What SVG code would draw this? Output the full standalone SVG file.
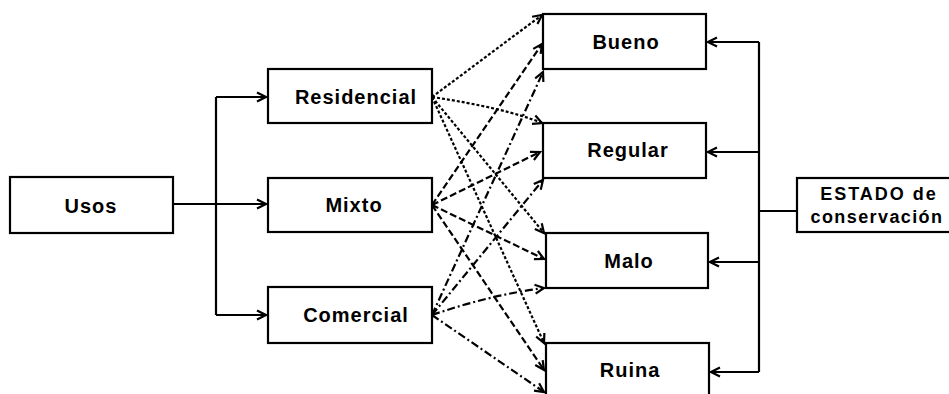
<svg xmlns="http://www.w3.org/2000/svg" width="949" height="394" viewBox="0 0 949 394">
<style>
.box{fill:#fff;stroke:#000;stroke-width:2.2}
.t{font-family:"Liberation Sans",Arial,sans-serif;font-weight:bold;font-size:20px;letter-spacing:1px;fill:#000;text-anchor:middle}
.t2{font-family:"Liberation Sans",Arial,sans-serif;font-weight:bold;font-size:18px;letter-spacing:2px;fill:#000;text-anchor:middle}
.ln{fill:none;stroke:#000;stroke-width:2.2}
.dot{fill:none;stroke:#000;stroke-width:2.2;stroke-dasharray:3 2}
.dash{fill:none;stroke:#000;stroke-width:2.2;stroke-dasharray:7 3}
.dd{fill:none;stroke:#000;stroke-width:2.2;stroke-dasharray:8 3 2 3}
</style>
<defs>
<marker id="ah" markerUnits="userSpaceOnUse" markerWidth="12" markerHeight="12" refX="10" refY="6" orient="auto">
<path d="M1,1.5 L10,6 L1,10.5" fill="none" stroke="#000" stroke-width="2.2" stroke-dasharray="none"/>
</marker>
</defs>
<g id="connectors">
<path class="ln" d="M173,204 H266" marker-end="url(#ah)"/>
<path class="ln" d="M216,97 V315"/>
<path class="ln" d="M216,97 H266" marker-end="url(#ah)"/>
<path class="ln" d="M216,315 H266" marker-end="url(#ah)"/>
<path class="ln" d="M759,42 V372"/>
<path class="ln" d="M797,211 H759"/>
<path class="ln" d="M759,42 H708" marker-end="url(#ah)"/>
<path class="ln" d="M759,152 H708" marker-end="url(#ah)"/>
<path class="ln" d="M759,262 H710" marker-end="url(#ah)"/>
<path class="ln" d="M759,372 H711" marker-end="url(#ah)"/>
<path class="dot" d="M432,97 L542,15" marker-end="url(#ah)"/>
<path class="dot" d="M432,97 Q505,108 542,123" marker-end="url(#ah)"/>
<path class="dot" d="M432,97 L544,233" marker-end="url(#ah)"/>
<path class="dot" d="M432,97 L544,343" marker-end="url(#ah)"/>
<path class="dash" d="M432,205 L542,44" marker-end="url(#ah)"/>
<path class="dash" d="M432,205 L540,152" marker-end="url(#ah)"/>
<path class="dash" d="M432,205 L544,259" marker-end="url(#ah)"/>
<path class="dash" d="M432,205 L544,370" marker-end="url(#ah)"/>
<path class="dd" d="M432,315 L543,72" marker-end="url(#ah)"/>
<path class="dd" d="M432,315 L543,180" marker-end="url(#ah)"/>
<path class="dd" d="M432,315 Q490,295 544,288" marker-end="url(#ah)"/>
<path class="dd" d="M432,315 L544,392" marker-end="url(#ah)"/>
</g>
<g id="usos"><rect class="box" x="10" y="177" width="163" height="56"/><text class="t" x="91" y="213">Usos</text></g>
<g id="residencial"><rect class="box" x="268" y="69" width="164" height="54"/><text class="t" x="356" y="104">Residencial</text></g>
<g id="mixto"><rect class="box" x="268" y="178" width="164" height="54"/><text class="t" x="354" y="212">Mixto</text></g>
<g id="comercial"><rect class="box" x="268" y="287" width="164" height="56"/><text class="t" x="356" y="322">Comercial</text></g>
<g id="bueno"><rect class="box" x="543" y="14" width="163" height="55"/><text class="t" x="626" y="49">Bueno</text></g>
<g id="regular"><rect class="box" x="543" y="123" width="163" height="55"/><text class="t" x="628" y="157">Regular</text></g>
<g id="malo"><rect class="box" x="546" y="233" width="162" height="55"/><text class="t" x="629" y="268">Malo</text></g>
<g id="ruina"><rect class="box" x="546" y="343" width="163" height="60"/><text class="t" x="630" y="377">Ruina</text></g>
<g id="estado"><rect class="box" x="797" y="178" width="156" height="54"/><text class="t2" x="879" y="200">ESTADO de</text><text class="t2" x="877" y="223" style="letter-spacing:1.4px">conservación</text></g>
</svg>
